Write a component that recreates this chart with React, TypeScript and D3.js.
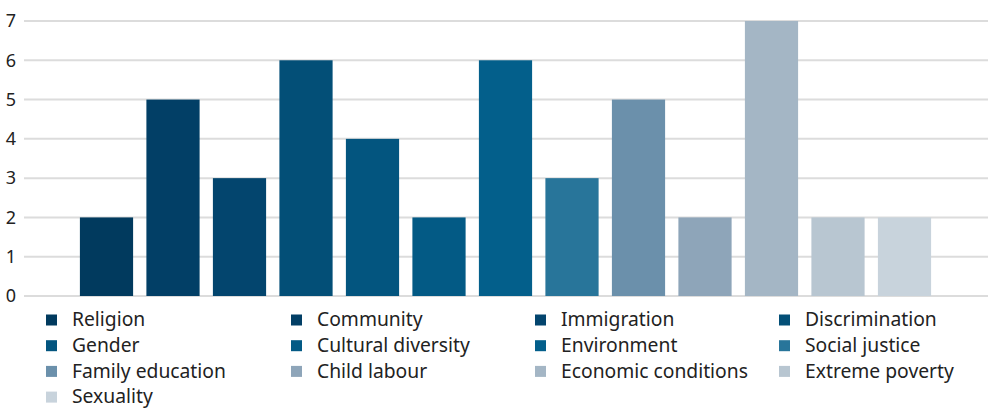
import React from "react";
import * as d3 from "d3";

const categories = [
  "Religion", "Community", "Immigration", "Discrimination", "Gender",
  "Cultural diversity", "Environment", "Social justice", "Family education",
  "Child labour", "Economic conditions", "Extreme poverty", "Sexuality",
];
const values = [2, 5, 3, 6, 4, 2, 6, 3, 5, 2, 7, 2, 2];
const colors = [
  "#013a5e", "#023f66", "#03456e", "#034f77", "#03557f", "#035a85",
  "#035f8b", "#28759a", "#6b90ab", "#8ea5b9", "#a4b6c5", "#b8c6d1", "#c8d3dc",
];
const yTicks = [0, 1, 2, 3, 4, 5, 6, 7];

const W = 990, H = 410;
const FONT = "'Noto Sans', 'Open Sans', sans-serif";

export default function App() {
  const y = d3.scaleLinear().domain([0, 7]).range([296, 21]);
  const x = d3.scaleBand<string>()
    .domain(categories)
    .range([73.25, 937.75])
    .paddingInner(0.2)
    .paddingOuter(0.1);
  const gridX0 = 24, gridX1 = 988;
  const legCols = [46, 291, 535, 779];
  const legRow0 = 320, legDy = 25.7;

  return (
    <svg width={W} height={H} style={{ position: "absolute", left: 0, top: 0 }} fontFamily={FONT}>
      <rect width={W} height={H} fill="#fff" />
      {yTicks.map((t) => (
        <g key={t}>
          <line x1={gridX0} x2={gridX1} y1={y(t)} y2={y(t)} stroke="#dcdcdc" strokeWidth={2} />
          <text x={16} y={y(t)} dy="0.35em" textAnchor="end" fontSize={18} fill="#222">{t}</text>
        </g>
      ))}
      {categories.map((c, i) => (
        <rect key={c} x={x(c)} y={y(values[i])} width={x.bandwidth()} height={y(0) - y(values[i])} fill={colors[i]} />
      ))}
      {categories.map((c, i) => {
        const col = i % 4, row = Math.floor(i / 4);
        const lx = legCols[col], ly = legRow0 + row * legDy;
        return (
          <g key={"l" + c}>
            <rect x={lx} y={ly - 5.5} width={11} height={11} fill={colors[i]} />
            <text x={lx + 26} y={ly} dy="0.33em" fontSize={19.3} fill="#222">{c}</text>
          </g>
        );
      })}
    </svg>
  );
}
